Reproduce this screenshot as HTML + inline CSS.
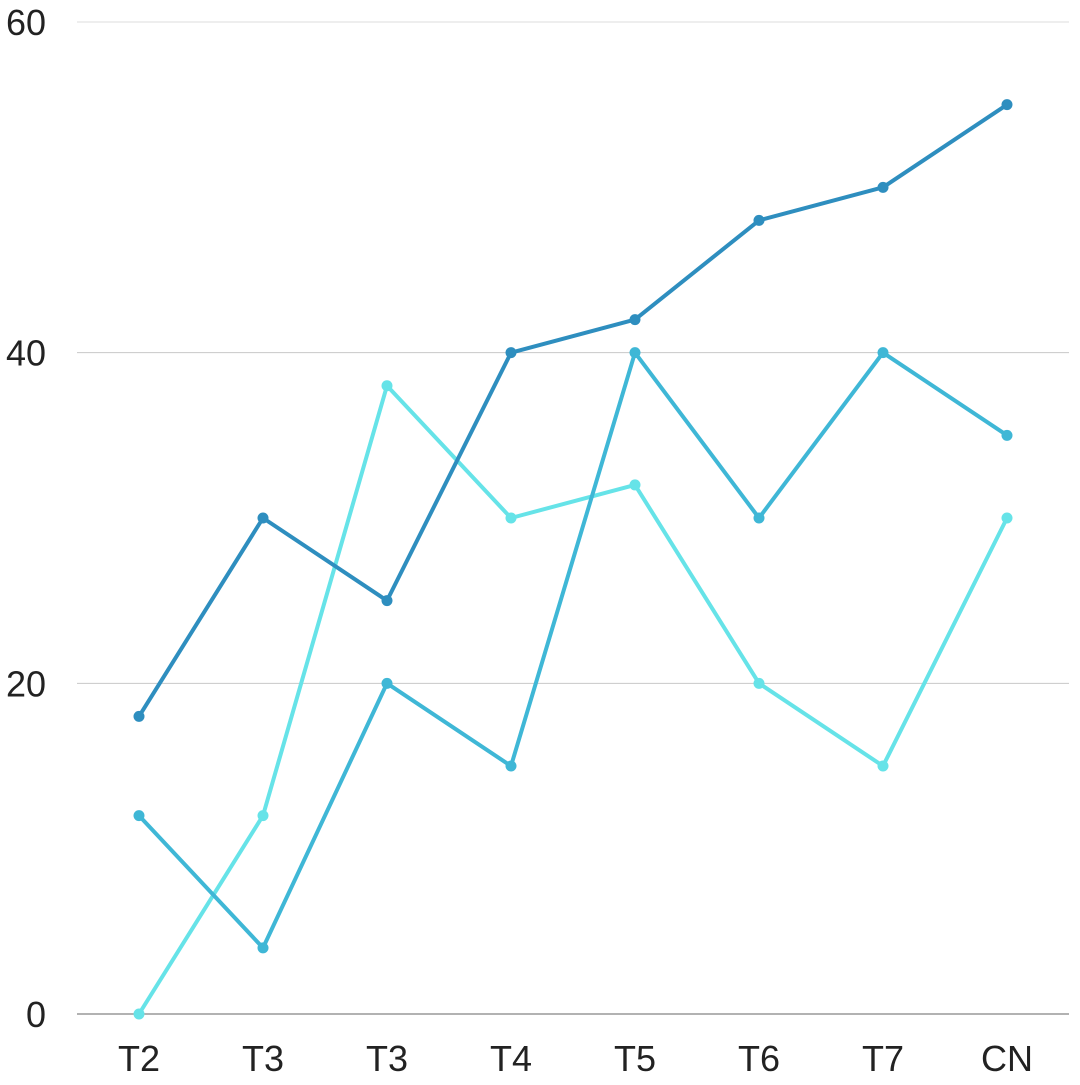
<!DOCTYPE html>
<html><head><meta charset="utf-8"><style>
html,body{margin:0;padding:0;background:#fff;}
svg text{font-family:"Liberation Sans",sans-serif;fill:#222;}
</style></head><body>
<svg id="chart" width="1080" height="1080" xmlns="http://www.w3.org/2000/svg">
<g id="grid"></g>
<g id="yaxis"></g>
<g id="xaxis"></g>
<g id="series"></g>
</svg>
<script>
const categories = ["T2","T3","T3","T4","T5","T6","T7","CN"];
const seriesA = [18,30,25,40,42,48,50,55];
const seriesB = [12,4,20,15,40,30,40,35];
const seriesC = [0,12,38,30,32,20,15,30];
const yTicks = [0,20,40,60];
const colors = ["#2e8ebf","#3fb7d6","#66e3e8"];
const NS="http://www.w3.org/2000/svg";
function yScale(v){return 1014 - v*(1014-22)/60;}
function xScale(i){return 139 + i*124;}
function mk(tag,attrs,parent){const e=document.createElementNS(NS,tag);for(const k in attrs)e.setAttribute(k,attrs[k]);parent.appendChild(e);return e;}
const grid=document.getElementById('grid'),ya=document.getElementById('yaxis'),xa=document.getElementById('xaxis'),sg=document.getElementById('series');
yTicks.forEach(t=>{
  const y=yScale(t);
  const col = t===0 ? '#666' : (t===60 ? '#ddd' : '#c8c8c8');
  const l=mk('line',{x1:77,x2:1069,y1:y,y2:y,stroke:col,'stroke-width':1},grid);
  
  
  const tx=mk('text',{x:46,y:y+13,'text-anchor':'end','font-size':36},ya);
  tx.textContent=t;
  
  
});
categories.forEach((c,i)=>{
  const tx=mk('text',{x:xScale(i),y:1071,'text-anchor':'middle','font-size':36},xa);
  tx.textContent=c;
  
  
});
[seriesC,seriesB,seriesA].forEach((s,k)=>{
  const ci=2-k;
  const g=mk('g',{},sg);
  
  
  const pts=s.map((v,i)=>xScale(i)+','+yScale(v)).join(' ');
  const pl=mk('polyline',{points:pts,fill:'none',stroke:colors[ci],'stroke-width':4,'stroke-linejoin':'round'},g);
  
  
  s.forEach((v,i)=>{
    const c=mk('circle',{cx:xScale(i),cy:yScale(v),r:5.5,fill:colors[ci]},g);
    
    
  });
});
</script>
</body></html>
